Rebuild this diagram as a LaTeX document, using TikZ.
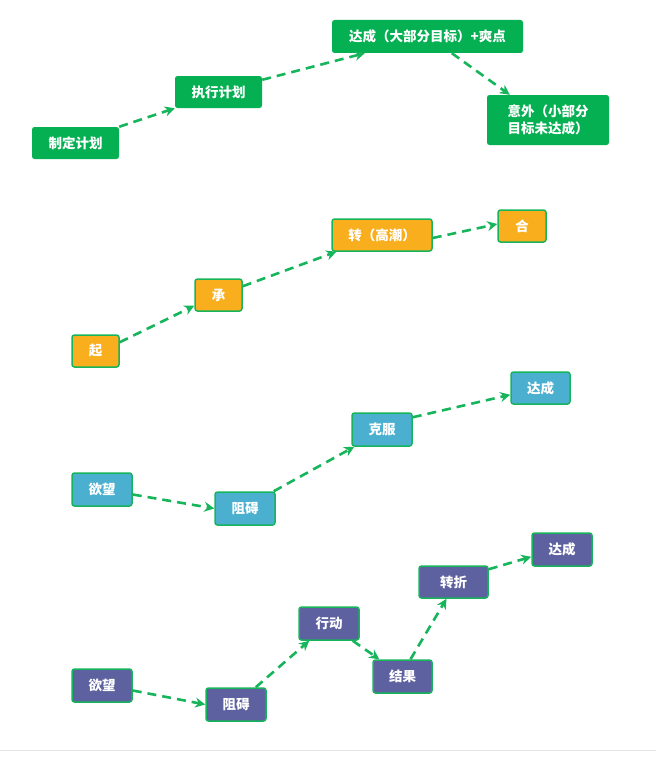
\documentclass[tikz,border=0pt]{standalone}
\usepackage{fontspec}
\newfontfamily\cjk{Noto Sans CJK SC}
\usetikzlibrary{arrows.meta}
\definecolor{plangreen}{HTML}{04B052}
\definecolor{storyorange}{HTML}{F8AE1D}
\definecolor{storyblue}{HTML}{4BAFCF}
\definecolor{storypurple}{HTML}{5D619F}
\definecolor{linegreen}{HTML}{16B55B}
\tikzset{
  box/.style={rounded corners=2.5pt, text=white, inner sep=0pt, minimum height=32pt,
    font=\cjk\bfseries\fontsize{13.5}{17}\selectfont},
  plan/.style={box, fill=plangreen},
  story/.style={box, draw=linegreen, line width=1.5pt},
  flow/.style={-{Stealth[length=10pt,width=10pt]}, draw=linegreen, line width=2.6pt,
    dash pattern=on 9pt off 6pt}
}

\begin{document}
\begin{tikzpicture}[x=1pt,y=-1pt]
    \useasboundingbox (0,0) rectangle (656,768);
    % plan line
    \node[plan, minimum width=87pt] (plan) at (75.5,143) {制定计划};
    \node[plan, minimum width=87pt] (exec) at (218.5,92) {执行计划};
    \node[plan, minimum width=191pt, minimum height=33pt] (reach) at (427.5,36.5) {达成（大部分目标）+爽点};
    \node[plan, minimum width=122pt, minimum height=50pt, align=left] (accident) at (548,120) {意外（小部分\\目标未达成）};
    \draw[flow] (plan.north east) -- (exec.south west);
    \draw[flow] ([yshift=-4pt]exec.north east) -- ([xshift=33pt]reach.south west);
    \draw[flow] ([xshift=120pt]reach.south west) -- ([xshift=23pt]accident.north west);
    % qi cheng zhuan he
    \node[story, fill=storyorange, minimum width=47pt] (qi) at (95.5,351) {起};
    \node[story, fill=storyorange, minimum width=47pt] (cheng) at (218.5,295) {承};
    \node[story, fill=storyorange, minimum width=100pt] (zhuan) at (382,235) {转（高潮）};
    \node[story, fill=storyorange, minimum width=48pt] (he) at (522,226) {合};
    \draw[flow] ([yshift=-8pt]qi.north east) -- ([yshift=6pt]cheng.south west);
    \draw[flow] ([yshift=-8pt]cheng.north east) -- ([xshift=5pt]zhuan.south west);
    \draw[flow] ([yshift=-3pt]zhuan.east) -- ([yshift=2pt]he.west);
    % desire, obstacle, overcome
    \node[story, fill=storyblue, minimum width=60pt, minimum height=33pt] (want) at (102,489.5) {欲望};
    \node[story, fill=storyblue, minimum width=60pt, minimum height=33pt] (block) at (245,508.5) {阻碍};
    \node[story, fill=storyblue, minimum width=60pt, minimum height=33pt] (overcome) at (382,429.5) {克服};
    \node[story, fill=storyblue, minimum width=59pt] (reached) at (540.5,388) {达成};
    \draw[flow] ([yshift=-5pt]want.east) -- (block.west);
    \draw[flow] ([xshift=-2pt]block.north east) -- ([xshift=3pt]overcome.south west);
    \draw[flow] ([yshift=-5pt]overcome.north east) -- ([yshift=10pt]reached.south west);
    % desire, obstacle, action, result, turn
    \node[story, fill=storypurple, minimum width=60pt, minimum height=33pt] (wantb) at (102,685.5) {欲望};
    \node[story, fill=storypurple, minimum width=60pt, minimum height=33pt] (blockb) at (236,704.5) {阻碍};
    \node[story, fill=storypurple, minimum width=60pt, minimum height=33pt] (action) at (329,623.5) {行动};
    \node[story, fill=storypurple, minimum width=59pt, minimum height=33pt] (result) at (402.5,676.5) {结果};
    \node[story, fill=storypurple, minimum width=69pt] (turn) at (453.5,582) {转折};
    \node[story, fill=storypurple, minimum width=60pt, minimum height=33pt] (reachedb) at (562,549.5) {达成};
    \draw[flow] ([yshift=-5pt]wantb.east) -- (blockb.west);
    \draw[flow] ([xshift=-11pt]blockb.north east) -- ([xshift=11pt]action.south west);
    \draw[flow] ([xshift=-7pt]action.south east) -- ([xshift=7pt]result.north west);
    \draw[flow] ([xshift=8pt]result.north) -- ([xshift=-7pt]turn.south);
    \draw[flow] ([yshift=-4pt]turn.north east) -- ([yshift=10pt]reachedb.south west);
    % bottom rule
    \draw[gray!20, line width=1pt] (0,750) -- (656,750);
\end{tikzpicture}
\end{document}
